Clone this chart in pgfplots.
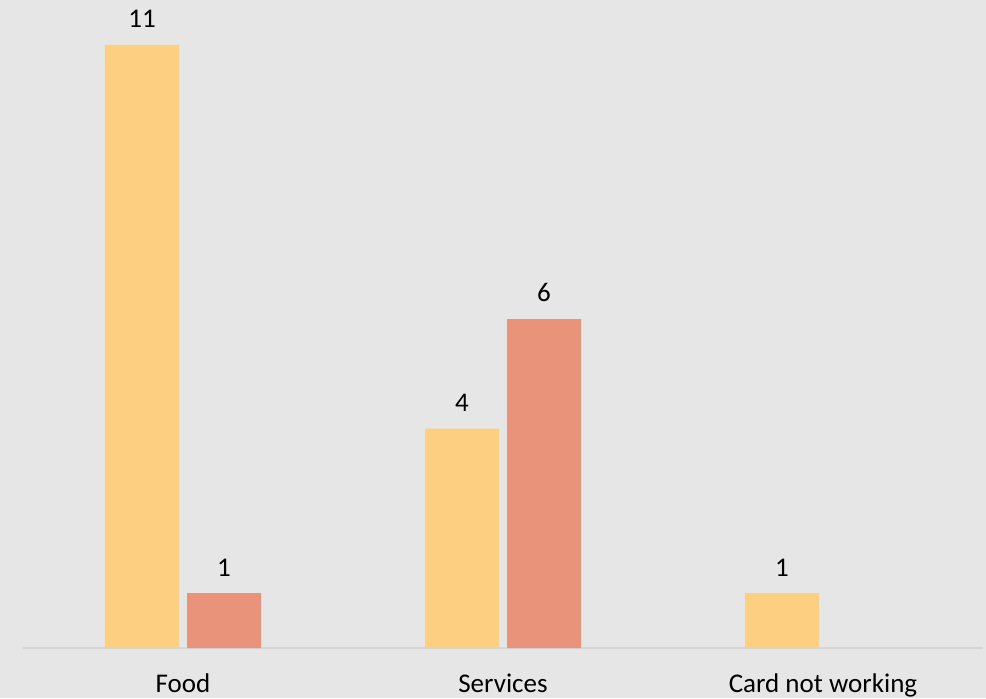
\documentclass[border=0pt]{standalone}
\usepackage{pgfplots}
\pgfplotsset{compat=1.18}
\usepackage{fontspec}
\setmainfont{Carlito}
\definecolor{bg}{HTML}{E6E6E6}
\definecolor{cyel}{HTML}{FDCF80}
\definecolor{csal}{HTML}{E8937A}
\definecolor{axl}{HTML}{D6D6D6}
\begin{document}
\begin{tikzpicture}
\fill[bg] (0,0) rectangle (493pt,349pt);
\useasboundingbox (0,0) rectangle (493pt,349pt);
\begin{axis}[
  at={(11.5pt,25pt)}, anchor=south west,
  scale only axis, width=480pt, height=324pt,
  xmin=-0.5, xmax=2.5, ymin=0, ymax=11.82,
  /pgf/number format/assume math mode=true,
  axis line style={draw=none},
  axis x line*=bottom,
  extra y ticks={0}, extra y tick labels={},
  extra y tick style={grid=major, major grid style={axl, line width=1pt}},
  ytick=\empty,
  xtick={0,1,2},
  xticklabels={Food,Services,Card not working},
  x tick label style={font=\fontsize{13.5}{16}\selectfont, text=black, yshift=-9.5pt},
  major tick length=0pt,
  ybar, bar width=37pt,
  nodes near coords,
  every node near coord/.append style={font=\fontsize{13.5}{16}\selectfont, text=black, yshift=5pt},
  clip=false,
]
\addplot[fill=cyel, draw=none, bar shift=-20.5pt] coordinates {(0,11) (1,4) (2,1)};
\addplot[fill=csal, draw=none, bar shift=20.5pt] coordinates {(0,1) (1,6)};
\end{axis}
\end{tikzpicture}
\end{document}
